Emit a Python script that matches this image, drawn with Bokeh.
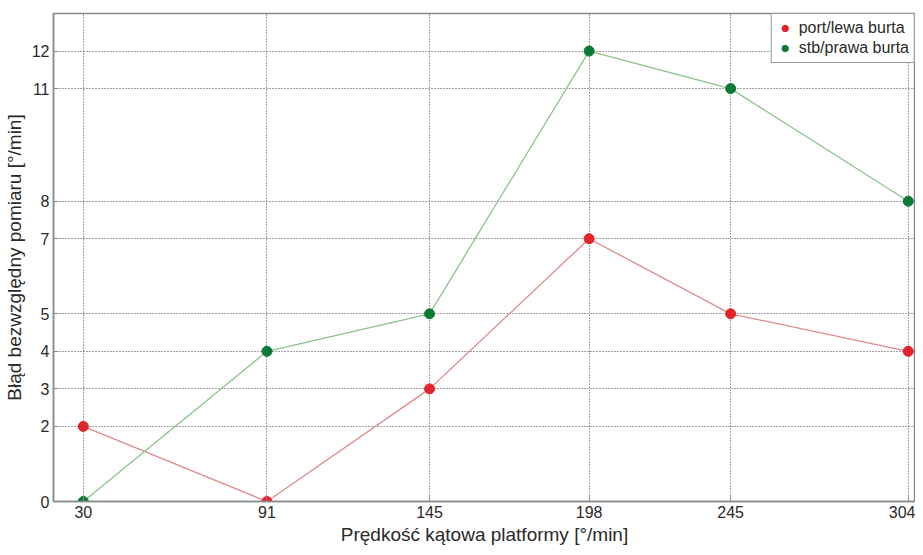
from bokeh.plotting import figure
from bokeh.models import Range1d, FixedTicker, Legend, LegendItem
from bokeh.embed import file_html
from bokeh.resources import INLINE

x_speed = [30, 91, 145, 198, 245, 304]
port_err = [2, 0, 3, 7, 5, 4]
stb_err = [0, 4, 5, 12, 11, 8]
x_ticks = [30, 91, 145, 198, 245, 304]
y_ticks = [0, 2, 3, 4, 5, 7, 8, 11, 12]

FONT = "Liberation Sans"

p = figure(width=915, height=547, output_backend="svg", toolbar_location=None,
           x_range=Range1d(20.1, 306.4), y_range=Range1d(0, 13),
           min_border_left=53, min_border_right=0, min_border_top=13, min_border_bottom=46)
p.background_fill_color = "white"
p.border_fill_color = "white"
p.outline_line_color = "#8a8a8a"
p.outline_line_width = 1.5

for ax in (p.xaxis[0], p.yaxis[0]):
    ax.axis_line_color = "#8a8a8a"
    ax.axis_line_width = 1.5
    ax.major_tick_line_color = "#8a8a8a"
    ax.major_tick_in = 5
    ax.major_tick_out = 0
    ax.minor_tick_line_color = None
    ax.major_label_text_font = FONT
    ax.major_label_text_font_size = "16px"
    ax.major_label_text_color = "#2a2a2a"
    ax.axis_label_text_font = FONT
    ax.axis_label_text_font_size = "19px"
    ax.axis_label_text_font_style = "normal"
    ax.axis_label_text_color = "#2a2a2a"

p.xaxis.ticker = FixedTicker(ticks=x_ticks)
p.yaxis.ticker = FixedTicker(ticks=y_ticks)
p.xaxis.major_label_standoff = 4
p.xaxis.axis_label_standoff = 3
p.yaxis.major_label_standoff = 4
p.yaxis.axis_label_standoff = 4
p.xaxis.axis_label = "Prędkość kątowa platformy [°/min]"
p.yaxis.axis_label = "Błąd bezwzględny pomiaru [°/min]"

for g in (p.xgrid[0], p.ygrid[0]):
    g.grid_line_color = "#444444"
    g.grid_line_dash = "1 2"
    g.grid_line_width = 1
p.xgrid.ticker = FixedTicker(ticks=x_ticks)
p.ygrid.ticker = FixedTicker(ticks=y_ticks)

p.line(x_speed, port_err, line_color="#e08a8a", line_width=1.3)
p.line(x_speed, stb_err, line_color="#8cc48c", line_width=1.3)
r_port = p.scatter(x_speed, port_err, size=10, fill_color="#e3232a", line_color="#e3232a")
r_stb = p.scatter(x_speed, stb_err, size=10, fill_color="#0b7a35", line_color="#0b7a35")

legend = Legend(items=[LegendItem(label="port/lewa burta", renderers=[r_port]),
                       LegendItem(label="stb/prawa burta", renderers=[r_stb])],
                location="top_right", margin=0, padding=5, spacing=2,
                label_text_font=FONT, label_text_font_size="16px", label_text_color="#2a2a2a",
                glyph_width=16, glyph_height=18, label_height=18, label_standoff=6,
                border_line_color="#333333", border_line_width=1,
                background_fill_alpha=1)
p.add_layout(legend)

open("out.html", "w").write(file_html(p, INLINE))
